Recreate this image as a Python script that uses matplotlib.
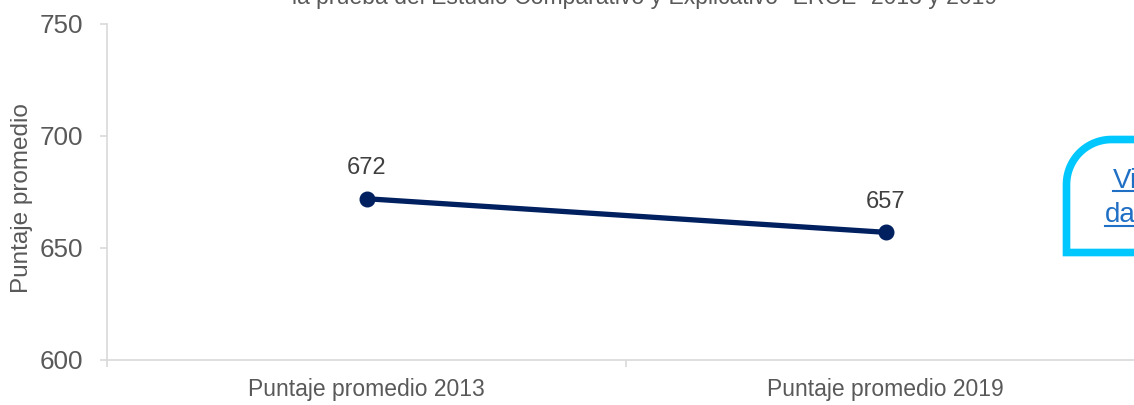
import matplotlib.pyplot as plt
import numpy as np
from matplotlib.path import Path
from matplotlib.patches import PathPatch

categories = ["Puntaje promedio 2013", "Puntaje promedio 2019"]
scores = [672, 657]
y_ticks = [600, 650, 700, 750]
title = 'la prueba del Estudio Comparativo y Explicativo "ERCE" 2013 y 2019'

W, H = 1134, 405
plt.rcParams["font.family"] = ["Liberation Sans", "DejaVu Sans"]

fig = plt.figure(figsize=(W / 100, H / 100), dpi=100)
# axes spans from x=107 to ~1145 px, y=24 to 360 px
ax = fig.add_axes([107 / W, 1 - 360 / H, (1145 - 107) / W, (360 - 24) / H])

x = np.arange(len(categories))
ax.plot(x, scores, color="#002060", lw=3.8, marker="o", ms=10.5, zorder=3)
for xi, v in zip(x, scores):
    ax.annotate(str(v), (xi, v), xytext=(0, 14), textcoords="offset points",
                ha="center", va="bottom", fontsize=17, color="#404040")

ax.set_xlim(-0.5, len(categories) - 0.5)
ax.set_ylim(600, 750)
ax.set_yticks(y_ticks)
ax.set_xticks(x)
ax.set_xticklabels(categories)
ax.set_xticks(np.arange(len(categories) + 1) - 0.5, minor=True)

for s in ["top", "right"]:
    ax.spines[s].set_visible(False)
for s in ["left", "bottom"]:
    ax.spines[s].set_color("#d9d9d9")
    ax.spines[s].set_linewidth(1.2)

ax.tick_params(axis="y", colors="#d9d9d9", labelcolor="#595959", labelsize=18.7,
               length=5, width=1.2, pad=12)
ax.tick_params(axis="x", which="major", length=0, labelcolor="#595959",
               labelsize=16.5, pad=13)
ax.tick_params(axis="x", which="minor", colors="#d9d9d9", length=5, width=1.2)

ax.set_ylabel("Puntaje promedio", fontsize=17.5, color="#595959")
ax.yaxis.set_label_coords(-0.0713, 0.482)

fig.text(645 / W, 1 - 4 / H, title, ha="center", va="baseline",
         fontsize=16.6, color="#595959")

# cyan rounded frame on the right edge
def px(xp, yp):
    return (xp / W, 1 - yp / H)

r = 45
lx, ty, by = 1066.5, 139.5, 252.5
ang = np.linspace(np.pi, np.pi / 2, 30)
arc = [px(lx + r + r * np.cos(a), ty + r - r * np.sin(a)) for a in ang]
verts = [px(1150, by), px(lx, by), px(lx, ty + r)] + arc + [px(1150, ty)]
patch = PathPatch(Path(verts), transform=fig.transFigure, fill=False,
                  edgecolor="#00c8ff", lw=5.5, capstyle="butt", joinstyle="miter")
fig.add_artist(patch)

link = "#1f6fc5"
fig.text(1113 / W, 1 - 188 / H, "Visualizar", fontsize=20, color=link,
         ha="left", va="baseline")
fig.text(1105 / W, 1 - 222 / H, "datos", fontsize=20, color=link,
         ha="left", va="baseline")
for yp, xs in [(191.5, 1113), (225.5, 1105)]:
    fig.add_artist(plt.Line2D([xs / W, 1.05], [1 - yp / H, 1 - yp / H],
                              transform=fig.transFigure, color=link, lw=1.5))

fig.savefig("out.png", dpi=100)
